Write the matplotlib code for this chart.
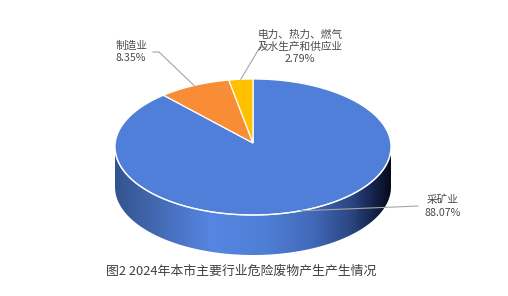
import numpy as np
import matplotlib
matplotlib.use("Agg")
import matplotlib.pyplot as plt
from matplotlib.patches import Polygon
from matplotlib.colors import LinearSegmentedColormap

plt.rcParams['font.family'] = ['Noto Sans CJK SC', 'DejaVu Sans']

# Data
categories = ['采矿业', '制造业', '电力、热力、燃气\n及水生产和供应业']
shares = [88.07, 8.35, 2.79]
pct_labels = ['88.07%', '8.35%', '2.79%']
colors = ['#4F7FD9', '#F98D36', '#FFC000']
title = '图2 2024年本市主要行业危险废物产生产生情况'

# Geometry of the tilted pie (pixel space)
W, H = 508, 296
cx, cy = 253, 147
rx, ry = 138, 68
depth = 40
apex = (cx, cy - 4)

fig = plt.figure(figsize=(W / 100, H / 100), dpi=100)
ax = fig.add_axes([0, 0, 1, 1])
ax.set_xlim(0, W)
ax.set_ylim(H, 0)
ax.axis('off')


def ell(t_deg, dy=0.0):
    t = np.radians(t_deg)
    return cx + rx * np.cos(t), cy - ry * np.sin(t) + dy


# Side wall (front half) with horizontal shading
ts = np.linspace(180, 360, 200)
top_x, top_y = ell(ts)
bot_x, bot_y = ell(ts[::-1], depth)
side_pts = np.column_stack([np.r_[top_x, bot_x], np.r_[top_y, bot_y]])
side = Polygon(side_pts, closed=True, facecolor='none', edgecolor='none')
ax.add_patch(side)

side_cmap = LinearSegmentedColormap.from_list('side', [
    (0.00, '#34548F'),
    (0.10, '#3F62A6'),
    (0.35, '#5686E2'),
    (0.55, '#4F7ED6'),
    (0.72, '#4169B8'),
    (0.86, '#2A4582'),
    (0.95, '#121F42'),
    (1.00, '#060C1C'),
])
grad = np.linspace(0, 1, 400)[None, :]
im = ax.imshow(grad, cmap=side_cmap, extent=(cx - rx, cx + rx, cy + ry + depth, cy - 2),
               aspect='auto', interpolation='bilinear', zorder=1)
im.set_clip_path(side)

# Top face wedges, starting at 12 o'clock and running clockwise
total = sum(shares)
start = 90.0
mids = []
for val, col in zip(shares, colors):
    sweep = 360.0 * val / total
    end = start - sweep
    tt = np.linspace(start, end, max(int(sweep * 2), 4))
    xs, ys = ell(tt)
    pts = np.column_stack([np.r_[apex[0], xs], np.r_[apex[1], ys]])
    ax.add_patch(Polygon(pts, closed=True, facecolor=col, edgecolor='white',
                         linewidth=0.9, zorder=3))
    mids.append((start + end) / 2)
    start = end

# light rim along the front edge of the top face
rx_, ry_ = ell(np.linspace(182, 358, 200))
ax.plot(rx_, ry_, color='white', lw=1.0, alpha=0.85, zorder=4)

# Labels with leader lines
leader = '#A6A6A6'
txt_col = '#4A4A4A'
fs = 7.7

# 采矿业
ax0, ay0 = ell(mids[0])
ax.plot([ax0, 395, 418], [ay0, 207, 206], color=leader, lw=0.8, zorder=5)
ax.text(443, 206, f'{categories[0]}\n{pct_labels[0]}', ha='center', va='center',
        fontsize=fs, color=txt_col, linespacing=1.3, zorder=6)

# 制造业
ax1, ay1 = ell(mids[1])
ax.plot([ax1, 159, 153], [ay1, 52, 52], color=leader, lw=0.8, zorder=5)
ax.text(131, 52, f'{categories[1]}\n{pct_labels[1]}', ha='center', va='center',
        fontsize=fs, color=txt_col, linespacing=1.3, zorder=6)

# 电力、热力、燃气及水生产和供应业
ax2, ay2 = ell(mids[2])
ax.plot([ax2, 260, 265], [ay2, 47, 47], color=leader, lw=0.8, zorder=5)
ax.text(300, 47, f'{categories[2]}\n{pct_labels[2]}', ha='center', va='center',
        fontsize=fs, color=txt_col, linespacing=1.2, zorder=6)

ax.text(241, 271, title, ha='center', va='center', fontsize=9.3, color='#404040')

fig.savefig('out.png', dpi=100)
